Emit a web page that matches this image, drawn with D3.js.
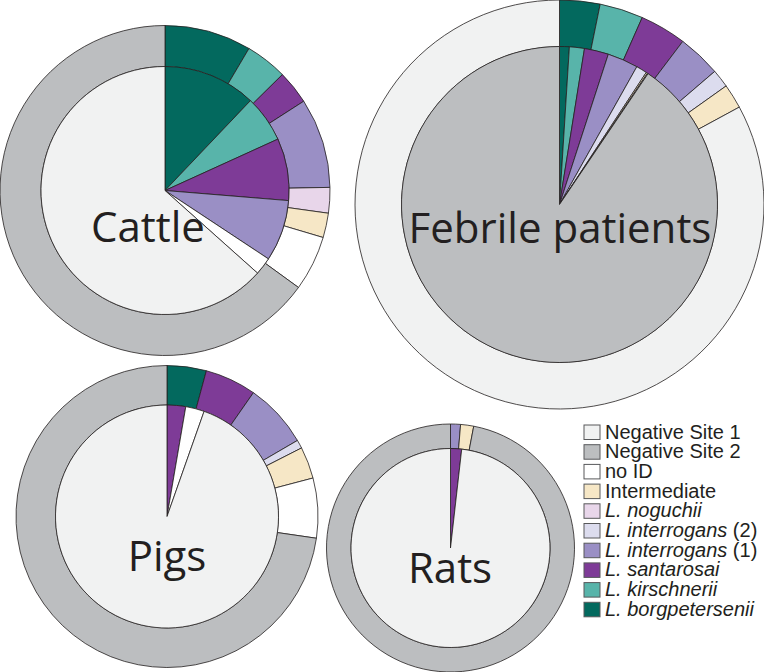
<!DOCTYPE html>
<html>
<head>
<meta charset="utf-8">
<script src="https://cdn.jsdelivr.net/npm/d3@7"></script>
<style>
  html, body { margin: 0; padding: 0; background: #ffffff; }
  svg { display: block; }
</style>
</head>
<body>
<svg id="chart" width="764" height="672"></svg>
<script>
// Legend categories (legend order, top to bottom)
const categories = ["Negative Site 1", "Negative Site 2", "no ID", "Intermediate",
  "L. noguchii", "L. interrogans (2)", "L. interrogans (1)", "L. santarosai",
  "L. kirschnerii", "L. borgpetersenii"];
const colors = ["#f1f2f2", "#bcbec0", "#ffffff", "#f6e7c6",
  "#e8d6ea", "#dcdcee", "#9a8fc5", "#7e3b97",
  "#58b4aa", "#03695e"];
const italicPrefix = [false, false, false, false, true, true, true, true, true, true];

// Percent values per panel, in legend order (same order as categories)
const cattleInner   = [63.4, 0, 2.3, 0, 0, 0, 8.0, 8.1, 6.1, 12.1];
const cattleOuter   = [0, 65.0, 5.4, 2.4, 2.5, 0, 8.8, 3.3, 4.1, 8.5];
const febrileInner  = [0, 90.53, 0.08, 0.14, 0, 1.11, 3.14, 2.47, 1.53, 1.0];
const febrileOuter  = [82.9, 0, 0, 1.94, 0, 1.44, 3.42, 3.67, 3.44, 3.19];
const pigsInner     = [94.6, 0, 2.7, 0, 0, 0, 0, 2.7, 0, 0];
const pigsOuter     = [0, 72.7, 6.4, 3.4, 0, 0.9, 6.9, 5.5, 0, 4.2];
const ratsInner     = [98.2, 0, 0, 0, 0, 0, 0, 1.8, 0, 0];
const ratsOuter     = [0, 97.0, 0, 1.7, 0, 0, 1.3, 0, 0, 0];

const panelNames = ["Cattle", "Febrile patients", "Pigs", "Rats"];

const svg = d3.select("#chart");
svg.append("rect").attr("width", 764).attr("height", 672).attr("fill", "#ffffff");

const panels = [
  { name: panelNames[0], cx: 165, cy: 190.5, r: 124, R: 165, inner: cattleInner, outer: cattleOuter, labelX: 148, labelY: 242 },
  { name: panelNames[1], cx: 559.5, cy: 204.5, r: 158, R: 204.5, inner: febrileInner, outer: febrileOuter, labelX: 560, labelY: 243 },
  { name: panelNames[2], cx: 167, cy: 516.5, r: 111.5, R: 151, inner: pigsInner, outer: pigsOuter, labelX: 167, labelY: 571 },
  { name: panelNames[3], cx: 450.5, cy: 548, r: 99.5, R: 124, inner: ratsInner, outer: ratsOuter, labelX: 450, labelY: 583 }
];

// Pie order: borgpetersenii first (clockwise from 12 o'clock), negatives last
const pieOrder = d3.range(categories.length).reverse();
const pie = d3.pie().sort(null).value(i => i.v).startAngle(0).endAngle(2 * Math.PI);

const stroke = "#231f20";

panels.forEach(p => {
  const g = svg.append("g").attr("transform", `translate(${p.cx},${p.cy})`);
  const rings = [
    { vals: p.outer, ri: p.r, ro: p.R },
    { vals: p.inner, ri: 0, ro: p.r }
  ];
  rings.forEach(ring => {
    const items = pieOrder.map(i => ({ i: i, v: ring.vals[i] }));
    const arcs = pie(items).filter(d => d.data.v > 0);
    const arc = d3.arc().innerRadius(ring.ri).outerRadius(ring.ro);
    g.selectAll(null).data(arcs).enter().append("path")
      .attr("d", arc)
      .attr("fill", d => colors[d.data.i])
      .attr("stroke", stroke)
      .attr("stroke-width", 0.8)
      .attr("stroke-linejoin", "round");
  });
  svg.append("text")
    .attr("x", p.labelX).attr("y", p.labelY)
    .attr("text-anchor", "middle")
    .attr("font-family", "'Open Sans', 'Noto Sans', sans-serif")
    .attr("font-size", 42)
    .attr("fill", "#231f20")
    .text(p.name);
});

// Legend
const legend = svg.append("g").attr("transform", "translate(584,425)");
const rowH = 19.7;
categories.forEach((c, k) => {
  const row = legend.append("g").attr("transform", `translate(0,${k * rowH})`);
  row.append("rect").attr("x", 0).attr("y", 0).attr("width", 16).attr("height", 14.5)
    .attr("fill", colors[k]).attr("stroke", "#58595b").attr("stroke-width", 1);
  const t = row.append("text").attr("x", 21).attr("y", 13.5)
    .attr("font-family", "'Liberation Sans', Arial, sans-serif")
    .attr("font-size", 20).attr("fill", "#231f20");
  if (italicPrefix[k]) {
    const m = c.match(/^(L\. \S+)(.*)$/);
    t.append("tspan").attr("font-style", "italic").text(m[1]);
    if (m[2]) t.append("tspan").text(m[2]);
  } else {
    t.text(c);
  }
});
</script>
</body>
</html>
